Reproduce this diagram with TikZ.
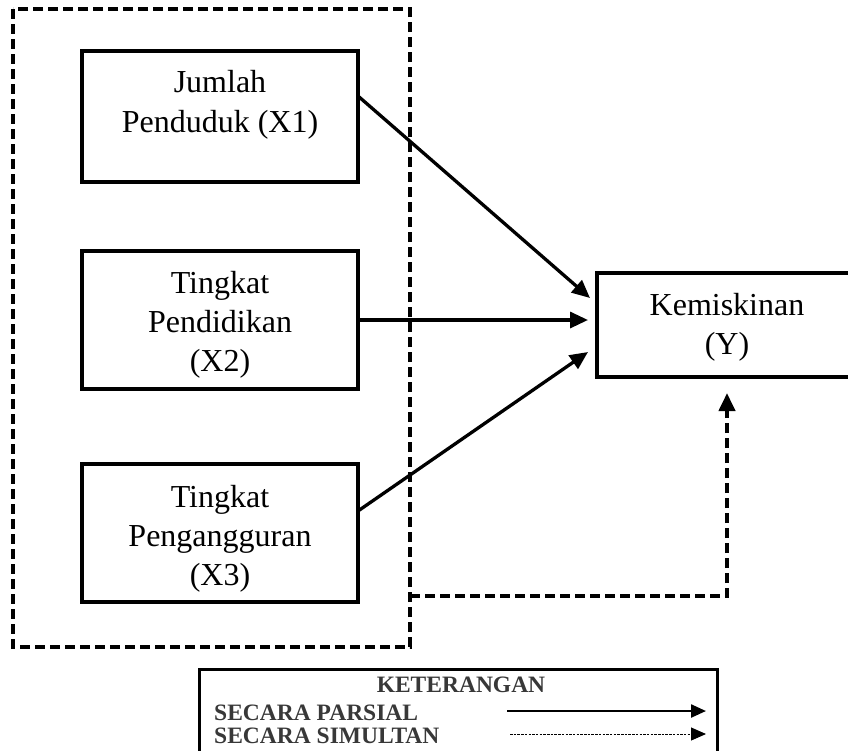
\documentclass[tikz,border=0pt]{standalone}
\usepackage{fontspec}
\setmainfont{Liberation Serif}
\usetikzlibrary{arrows.meta}
\begin{document}
\begin{tikzpicture}[x=1pt,y=-1pt,
  box/.style={draw,line width=4pt},
  txt/.style={anchor=base,inner sep=0pt,font=\fontsize{32}{40}\selectfont},
  legtxt/.style={inner sep=0pt,font=\bfseries\fontsize{23.5}{23}\selectfont,text=black!78},
  arr/.style={line width=3.3pt,-{Triangle[length=18pt,width=16pt]}},
  dsh/.style={line width=4.2pt,dash pattern=on 10pt off 5pt}]
\useasboundingbox (0,0) rectangle (848,750);
\draw[dsh] (13,9) rectangle (410,647);
% boxes
\draw[box] (82,51) rectangle (358,182);
\draw[box] (82,251) rectangle (358,389);
\draw[box] (82,464) rectangle (358,602);
\draw[box] (597,273) rectangle (856,377);
\node[txt] (j1) at (220,92) {Jumlah};
\node[txt] (j2) at (220,132) {Penduduk (X1)};
\node[txt] (p1) at (220,293) {Tingkat};
\node[txt] (p2) at (220,332) {Pendidikan};
\node[txt] (p3) at (220,371) {(X2)};
\node[txt] (u1) at (220,507) {Tingkat};
\node[txt] (u2) at (220,546) {Pengangguran};
\node[txt] (u3) at (220,585) {(X3)};
\node[txt] (k1) at (727,315) {Kemiskinan};
\node[txt] (k2) at (727,354) {(Y)};
% connectors
\coordinate (x1o) at (358,96);
\coordinate (x2o) at (358,320);
\coordinate (x3o) at (358,511);
\coordinate (t1) at (590,298);
\coordinate (t2) at (588,320);
\coordinate (t3) at (588,352);
\coordinate (bx) at (410,596);
\coordinate (bc) at (727,596);
\coordinate (bu) at (727,410);
\coordinate (ty) at (727,393);
\draw[arr] (x1o) -- (t1);
\draw[arr] (x2o) -- (t2);
\draw[arr] (x3o) -- (t3);
\draw[dsh] (bx) -- (bc) -- (bu);
\draw[line width=4pt,-{Triangle[length=18pt,width=16pt]}] (bu) -- (ty);
% legend
\draw[line width=3pt] (199,669) rectangle (717,760);
\node[legtxt,anchor=base] (k) at (461,692) {KETERANGAN};
\node[legtxt,anchor=base west] (lp) at (214,720) {SECARA PARSIAL};
\node[legtxt,anchor=base west] (ls) at (214,743) {SECARA SIMULTAN};
\coordinate (a1) at (507,711);
\coordinate (a2) at (706,711);
\coordinate (b1) at (510,734);
\coordinate (b2) at (706,734);
\draw[line width=2.4pt,-{Triangle[length=15pt,width=13pt]}] (a1) -- (a2);
\draw[line width=1pt,dash pattern=on 2.5pt off 1.2pt,-{Triangle[length=15pt,width=13pt]}] (b1) -- (b2);
\end{tikzpicture}
\end{document}
